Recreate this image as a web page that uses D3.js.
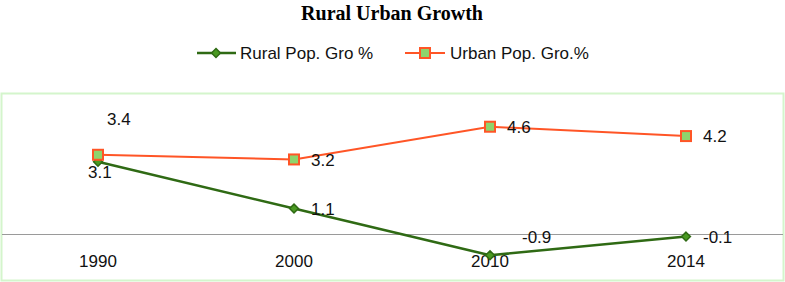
<!DOCTYPE html>
<html>
<head>
<meta charset="utf-8">
<script src="https://cdn.jsdelivr.net/npm/d3@7"></script>
<style>
  body { margin: 0; background: #fff; }
  svg { display: block; }
</style>
</head>
<body>
<svg></svg>
<script>
const years = ["1990", "2000", "2010", "2014"]
const rural = [3.1, 1.1, -0.9, -0.1]
const urban = [3.4, 3.2, 4.6, 4.2]
const seriesNames = ["Rural Pop. Gro %", "Urban Pop. Gro.%"]

const width = 785
const height = 282
const font = "'Liberation Sans', Arial, sans-serif"

const ruralLine = "#2f6a14"
const ruralFill = "#4a9a22"
const urbanLine = "#ff5526"
const urbanFill = "#8ed46c"

let svg = d3.select("svg")
    .attr("width", width)
    .attr("height", height)

// title
svg.append("text")
    .attr("x", 392)
    .attr("y", 20)
    .attr("text-anchor", "middle")
    .style("font-family", "'Liberation Serif', 'Times New Roman', serif")
    .style("font-weight", "bold")
    .style("font-size", "20px")
    .text("Rural Urban Growth")

const xScale = d3.scalePoint()
    .domain(years)
    .range([0, 784])
    .padding(0.5)

const yScale = d3.scaleLinear()
    .domain([-2, 6])
    .range([281, 94])

// plot area border
svg.append("rect")
    .attr("x", 1.5)
    .attr("y", 93.5)
    .attr("width", 782)
    .attr("height", 187)
    .style("fill", "none")
    .style("stroke", "#d4f5cc")
    .style("stroke-width", 2)

// zero line
svg.append("line")
    .attr("x1", 2)
    .attr("x2", 783)
    .attr("y1", Math.round(yScale(0)) + 0.5)
    .attr("y2", Math.round(yScale(0)) + 0.5)
    .style("stroke", "#9a9a9a")
    .style("stroke-width", 1)

// category labels
svg.append("g")
    .selectAll("text")
    .data(years)
    .enter()
    .append("text")
    .attr("x", (d) => xScale(d))
    .attr("y", 267)
    .attr("text-anchor", "middle")
    .style("font-family", font)
    .style("font-size", "17px")
    .style("fill", "#111")
    .text((d) => d)

const line = d3.line()
    .x((d, i) => xScale(years[i]))
    .y((d) => yScale(d))

// rural series
svg.append("path")
    .datum(rural)
    .attr("d", line)
    .style("fill", "none")
    .style("stroke", ruralLine)
    .style("stroke-width", 2.5)

svg.append("g")
    .selectAll("path")
    .data(rural)
    .enter()
    .append("path")
    .attr("d", d3.symbol().type(d3.symbolDiamond2).size(50))
    .attr("transform", (d, i) => "translate(" + xScale(years[i]) + "," + yScale(d) + ")")
    .style("fill", ruralFill)
    .style("stroke", ruralLine)
    .style("stroke-width", 1.5)

// urban series
svg.append("path")
    .datum(urban)
    .attr("d", line)
    .style("fill", "none")
    .style("stroke", urbanLine)
    .style("stroke-width", 2)

svg.append("g")
    .selectAll("rect")
    .data(urban)
    .enter()
    .append("rect")
    .attr("x", (d, i) => xScale(years[i]) - 5)
    .attr("y", (d) => yScale(d) - 5)
    .attr("width", 10)
    .attr("height", 10)
    .style("fill", urbanFill)
    .style("stroke", urbanLine)
    .style("stroke-width", 2)

// data labels (Excel placed a few by hand)
function labelPos(series, i, v) {
    const x = xScale(years[i])
    const y = yScale(v)
    if (series === "urban" && i === 0) return [x + 9, y - 36]
    if (series === "rural" && i === 0) return [x - 10, y + 10]
    if (series === "rural" && i === 2) return [x + 32, y - 18]
    return [x + 17, y]
}

function addLabels(values, series) {
    svg.append("g")
        .selectAll("text")
        .data(values)
        .enter()
        .append("text")
        .attr("x", (d, i) => labelPos(series, i, d)[0])
        .attr("y", (d, i) => labelPos(series, i, d)[1])
        .attr("dy", "0.36em")
        .style("font-family", font)
        .style("font-size", "17px")
        .style("fill", "#111")
        .text((d) => d.toFixed(1))
}
addLabels(urban, "urban")
addLabels(rural, "rural")

// legend
const legend = svg.append("g")

legend.append("line")
    .attr("x1", 197).attr("x2", 236)
    .attr("y1", 53).attr("y2", 53)
    .style("stroke", ruralLine)
    .style("stroke-width", 2.5)
legend.append("path")
    .attr("d", d3.symbol().type(d3.symbolDiamond2).size(50))
    .attr("transform", "translate(216,53)")
    .style("fill", ruralFill)
    .style("stroke", ruralLine)
    .style("stroke-width", 1.5)
legend.append("text")
    .attr("x", 240)
    .attr("y", 53)
    .attr("dy", "0.36em")
    .style("font-family", font)
    .style("font-size", "17px")
    .style("fill", "#111")
    .text(seriesNames[0])

legend.append("line")
    .attr("x1", 405).attr("x2", 445)
    .attr("y1", 53).attr("y2", 53)
    .style("stroke", urbanLine)
    .style("stroke-width", 2)
legend.append("rect")
    .attr("x", 420).attr("y", 48)
    .attr("width", 10).attr("height", 10)
    .style("fill", urbanFill)
    .style("stroke", urbanLine)
    .style("stroke-width", 2)
legend.append("text")
    .attr("x", 450)
    .attr("y", 53)
    .attr("dy", "0.36em")
    .style("font-family", font)
    .style("font-size", "17px")
    .style("fill", "#111")
    .text(seriesNames[1])
</script>
</body>
</html>
